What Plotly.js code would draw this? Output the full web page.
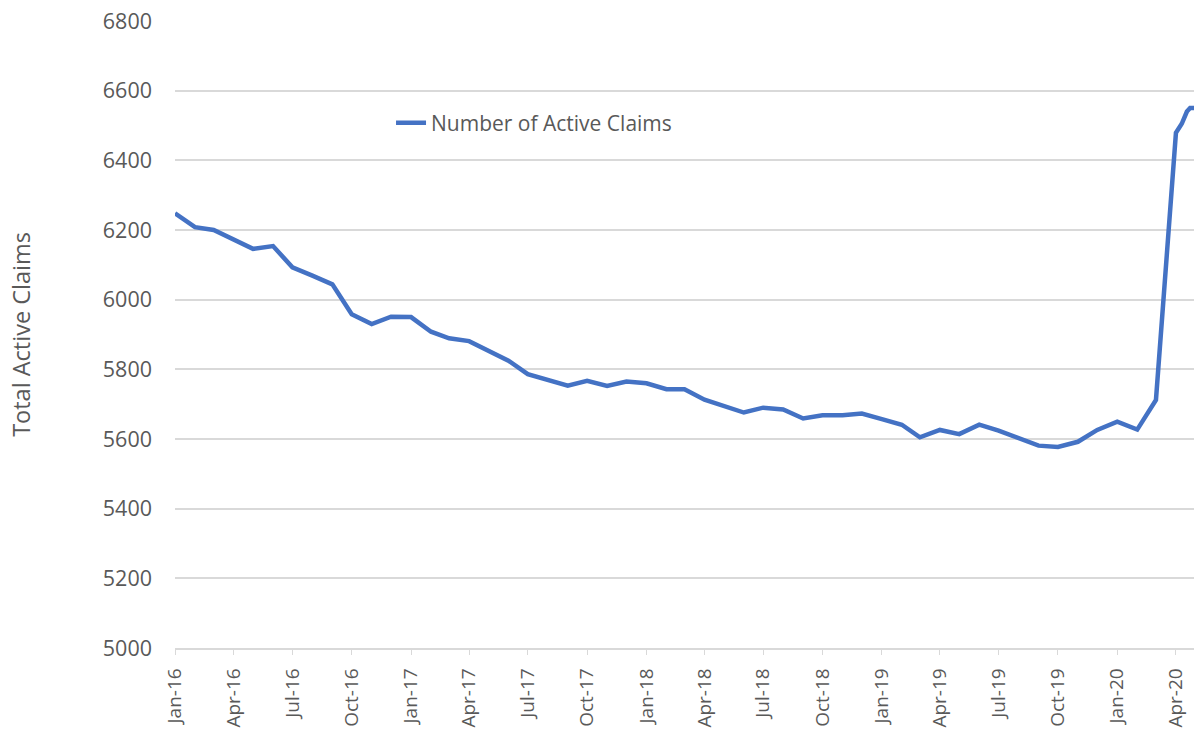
<!DOCTYPE html>
<html>
<head>
<meta charset="utf-8">
<script src="https://cdn.plot.ly/plotly-3.0.1.min.js"></script>
<style>
  body { margin: 0; background: #fff; }
  #chart { width: 1194px; height: 729px; }
</style>
</head>
<body>
<div id="chart"></div>
<script>
// monthly readings, with the weekly April 2020 figures at the end
var dates = [
  "2016-01-01", "2016-02-01", "2016-03-01", "2016-04-01", "2016-05-01", "2016-06-01",
  "2016-07-01", "2016-08-01", "2016-09-01", "2016-10-01", "2016-11-01", "2016-12-01",
  "2017-01-01", "2017-02-01", "2017-03-01", "2017-04-01", "2017-05-01", "2017-06-01",
  "2017-07-01", "2017-08-01", "2017-09-01", "2017-10-01", "2017-11-01", "2017-12-01",
  "2018-01-01", "2018-02-01", "2018-03-01", "2018-04-01", "2018-05-01", "2018-06-01",
  "2018-07-01", "2018-08-01", "2018-09-01", "2018-10-01", "2018-11-01", "2018-12-01",
  "2019-01-01", "2019-02-01", "2019-03-01", "2019-04-01", "2019-05-01", "2019-06-01",
  "2019-07-01", "2019-08-01", "2019-09-01", "2019-10-01", "2019-11-01", "2019-12-01",
  "2020-01-01", "2020-02-01", "2020-03-01", "2020-04-01", "2020-04-10", "2020-04-18",
  "2020-04-23", "2020-04-29"
];
var claims = [
  6248, 6208, 6200, 6171, 6146, 6154,
  6093, 6069, 6044, 5958, 5930, 5951,
  5950, 5908, 5889, 5881, 5853, 5825,
  5786, 5769, 5753, 5767, 5752, 5765,
  5760, 5743, 5743, 5713, 5694, 5676,
  5690, 5685, 5659, 5668, 5668, 5673,
  5657, 5641, 5605, 5626, 5614, 5641,
  5624, 5602, 5581, 5577, 5592, 5626,
  5650, 5627, 5712, 6479, 6505, 6540,
  6550, 6550
];
var seriesName = "Number of Active Claims";
var yTitle = "Total Active Claims";

var grey = "#595959";
var font = "'Open Sans', Lato, sans-serif";

var trace = {
  x: dates,
  y: claims,
  type: "scatter",
  mode: "lines",
  name: seriesName,
  line: { color: "#4472C4", width: 4.5 }
};

var layout = {
  width: 1194,
  height: 729,
  margin: { l: 175, r: 0, t: 21, b: 81 },
  paper_bgcolor: "#ffffff",
  plot_bgcolor: "#ffffff",
  font: { family: font, size: 20, color: grey },
  showlegend: true,
  legend: {
    x: 0.212, y: 0.837, xanchor: "left", yanchor: "middle",
    bgcolor: "rgba(0,0,0,0)",
    font: { family: font, size: 21, color: grey }
  },
  xaxis: {
    type: "date",
    range: ["2016-01-01", "2020-04-29"],
    tick0: "2016-01-01",
    dtick: "M3",
    tickformat: "%b-%y",
    tickangle: -90,
    ticks: "outside",
    ticklen: 5,
    tickcolor: "#d9d9d9",
    ticklabelstandoff: 6,
    showline: true,
    linecolor: "#d9d9d9",
    linewidth: 1.5,
    showgrid: false,
    zeroline: false,
    fixedrange: true,
    tickfont: { family: font, size: 19, color: grey }
  },
  yaxis: {
    range: [5000, 6800],
    dtick: 200,
    showgrid: true,
    gridcolor: "#d9d9d9",
    gridwidth: 1.5,
    zeroline: false,
    showline: false,
    ticks: "",
    ticklabelstandoff: 22,
    fixedrange: true,
    tickfont: { family: font, size: 21.5, color: grey },
    title: { text: yTitle, standoff: 65, font: { family: font, size: 23.5, color: grey } }
  }
};

Plotly.newPlot("chart", [trace], layout, { displayModeBar: false });
</script>
</body>
</html>
